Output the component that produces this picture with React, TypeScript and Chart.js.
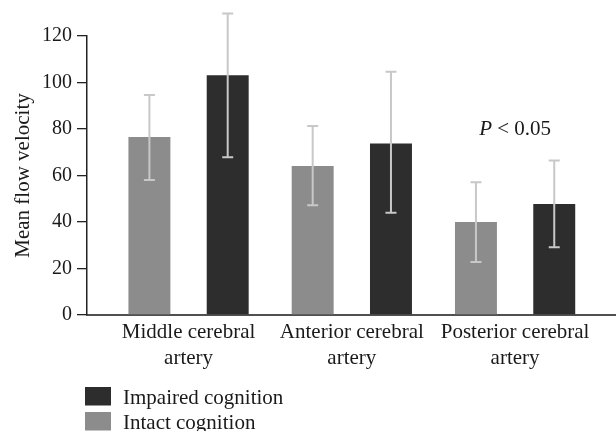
import React, { useEffect, useRef } from "react";
import { Chart, registerables } from "chart.js";

Chart.register(...registerables);

// ---- data ----
const categories: string[][] = [
  ["Middle cerebral", "artery"],
  ["Anterior cerebral", "artery"],
  ["Posterior cerebral", "artery"],
];
const intactLabel = "Intact cognition";
const impairedLabel = "Impaired cognition";
const intactMean = [76.6, 64.1, 40.0];
const intactHigh = [94.6, 81.3, 57.1];
const intactLow = [58.1, 47.2, 22.8];
const impairedMean = [103.1, 73.8, 47.7];
const impairedHigh = [129.7, 104.6, 66.4];
const impairedLow = [67.8, 44.0, 29.1];
const yTickValues = [0, 20, 40, 60, 80, 100, 120];
const yTitle = "Mean flow velocity";
const annotationItalic = "P";
const annotationRest = " < 0.05";
const annotationCategory = 2;
const annotationValue = 77.5;

// ---- styles ----
const SERIF = "'Liberation Serif', 'Times New Roman', serif";
const INTACT_COLOR = "#8c8c8c";
const IMPAIRED_COLOR = "#2d2d2d";
const ERR_COLOR = "#c8c8c8";
const TEXT_COLOR = "#1a1a1a";

const errorBarPlugin = {
  id: "errorBars",
  afterDatasetsDraw(chart: any) {
    const ctx = chart.ctx;
    const yScale = chart.scales.y;
    ctx.save();
    ctx.strokeStyle = ERR_COLOR;
    ctx.lineWidth = 2;
    chart.data.datasets.forEach((ds: any, di: number) => {
      const meta = chart.getDatasetMeta(di);
      meta.data.forEach((bar: any, i: number) => {
        const x = bar.x;
        const yHi = yScale.getPixelForValue(ds.errHigh[i]);
        const yLo = yScale.getPixelForValue(ds.errLow[i]);
        const cap = 5.5;
        ctx.beginPath();
        ctx.moveTo(x, yHi);
        ctx.lineTo(x, yLo);
        ctx.moveTo(x - cap, yHi);
        ctx.lineTo(x + cap, yHi);
        ctx.moveTo(x - cap, yLo);
        ctx.lineTo(x + cap, yLo);
        ctx.stroke();
      });
    });
    ctx.restore();
  },
};

const annotationPlugin = {
  id: "pAnnotation",
  afterDraw(chart: any) {
    const ctx = chart.ctx;
    const x = chart.scales.x.getPixelForValue(annotationCategory);
    const y = chart.scales.y.getPixelForValue(annotationValue);
    ctx.save();
    ctx.fillStyle = TEXT_COLOR;
    ctx.textBaseline = "alphabetic";
    ctx.textAlign = "left";
    ctx.font = `italic 21px ${SERIF}`;
    const w1 = ctx.measureText(annotationItalic).width;
    ctx.font = `21px ${SERIF}`;
    const w2 = ctx.measureText(annotationRest).width;
    const start = x - (w1 + w2) / 2;
    ctx.font = `italic 21px ${SERIF}`;
    ctx.fillText(annotationItalic, start, y);
    ctx.font = `21px ${SERIF}`;
    ctx.fillText(annotationRest, start + w1, y);
    ctx.restore();
  },
};

const legendPlugin = {
  id: "stackedLegend",
  afterDraw(chart: any) {
    const ctx = chart.ctx;
    const left = chart.chartArea.left - 2;
    const items = [...chart.data.datasets].reverse();
    ctx.save();
    ctx.font = `21px ${SERIF}`;
    ctx.textBaseline = "alphabetic";
    ctx.textAlign = "left";
    items.forEach((ds: any, k: number) => {
      const top = 387 + k * 25;
      ctx.fillStyle = ds.backgroundColor;
      ctx.fillRect(left, top, 26, 18.5);
      ctx.fillStyle = TEXT_COLOR;
      ctx.fillText(ds.label, left + 38, top + 16.5);
    });
    ctx.restore();
  },
};

export default function App() {
  const ref = useRef<HTMLCanvasElement | null>(null);

  useEffect(() => {
    if (!ref.current) return;
    const chart = new Chart(ref.current, {
      type: "bar",
      data: {
        datasets: [
          {
            label: intactLabel,
            data: intactMean.map((v, i) => ({ x: i, y: v })),
            backgroundColor: INTACT_COLOR,
            errHigh: intactHigh,
            errLow: intactLow,
          } as any,
          {
            label: impairedLabel,
            data: impairedMean.map((v, i) => ({ x: i, y: v })),
            backgroundColor: IMPAIRED_COLOR,
            errHigh: impairedHigh,
            errLow: impairedLow,
          } as any,
        ],
      },
      options: {
        animation: false,
        responsive: false,
        devicePixelRatio: 1,
        categoryPercentage: 0.959,
        barPercentage: 0.536,
        layout: { padding: { top: 36, right: 0, left: 0, bottom: 0 } },
        plugins: {
          legend: { display: false },
          tooltip: { enabled: false },
        },
        scales: {
          x: {
            type: "linear",
            min: -0.622,
            max: 2.618,
            offset: false,
            afterBuildTicks: (s: any) => {
              s.ticks = categories.map((_, i) => ({ value: i }));
            },
            afterFit: (s: any) => {
              s.height = 116;
            },
            ticks: {
              callback: (v: any) => categories[Math.round(v)] ?? "",
              font: { family: SERIF, size: 21, lineHeight: 1.24 },
              color: TEXT_COLOR,
              padding: 4,
              maxRotation: 0,
              autoSkip: false,
            },
            grid: { display: false, drawTicks: false },
            border: { display: true, color: "#505050", width: 2 },
          },
          y: {
            min: 0,
            max: 120,
            afterBuildTicks: (s: any) => {
              s.ticks = yTickValues.map((v) => ({ value: v }));
            },
            afterFit: (s: any) => {
              s.width = 87;
            },
            ticks: {
              font: { family: SERIF, size: 20 },
              color: TEXT_COLOR,
              padding: 5,
            },
            grid: {
              drawOnChartArea: false,
              drawTicks: true,
              tickLength: 10,
              color: "#222222",
              lineWidth: 1.3,
            },
            border: { display: true, color: "#222222", width: 1.5 },
            title: {
              display: true,
              text: yTitle,
              font: { family: SERIF, size: 21 },
              color: TEXT_COLOR,
              padding: { top: 11, bottom: 0 },
            },
          },
        },
      },
      plugins: [errorBarPlugin, annotationPlugin, legendPlugin],
    } as any);
    return () => chart.destroy();
  }, []);

  return (
    <div style={{ position: "absolute", left: 0, top: 0, width: 616, height: 431 }}>
      <canvas ref={ref} width={616} height={431} />
    </div>
  );
}
